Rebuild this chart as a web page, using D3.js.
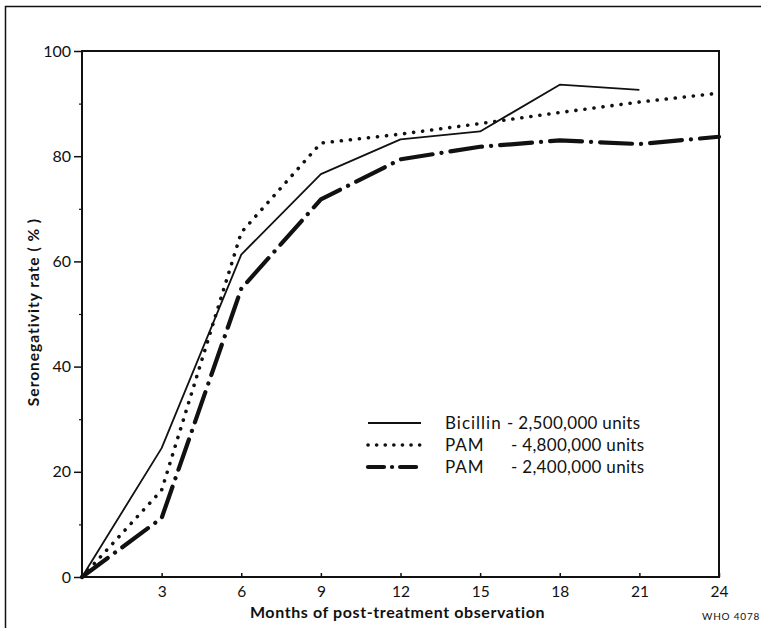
<!DOCTYPE html>
<html><head><meta charset="utf-8">
<script src="https://cdn.jsdelivr.net/npm/d3@7"></script>
<style>body{margin:0;background:#fff}svg{display:block}</style>
</head><body>
<script>
const months = [0, 3, 6, 9, 12, 15, 18, 21, 24];
const bicillin = [0, 24.5, 61.3, 76.6, 83.2, 84.7, 93.6, 92.6, null];
const pam48 = [0, 16.5, 65.5, 82.5, 84.2, 86.2, 88.3, 90.3, 92.0];
const pam24 = [0, 11.2, 54.8, 71.8, 79.4, 81.8, 83.0, 82.3, 83.7];
const seriesNames = ["Bicillin", "PAM", "PAM"];
const seriesDoses = ["- 2,500,000 units", "- 4,800,000 units", "- 2,400,000 units"];
const xTicks = [3, 6, 9, 12, 15, 18, 21, 24];
const yTicks = [0, 20, 40, 60, 80, 100];
const yMinor = [10, 30, 50, 70, 90];
const xTitle = "Months of post-treatment observation";
const yTitle = "Seronegativity rate ( % )";
const code = "WHO 4078";

const W = 761, H = 628;
const L = 82, R = 719, T = 51, B = 577;
const font = "Lato, 'DejaVu Sans', sans-serif";
const svg = d3.select("body").append("svg").attr("width", W).attr("height", H);

// outer frame (left and top only)
svg.append("path").attr("d", `M5.5,${H} V6.5 H${W}`).attr("fill", "none").attr("stroke", "#111").attr("stroke-width", 1.5);

const x = d3.scaleLinear().domain([0, 24]).range([L, R]);
const y = d3.scaleLinear().domain([0, 100]).range([B, T]);

// plot box
svg.append("rect").attr("x", L).attr("y", T).attr("width", R - L).attr("height", B - T)
  .attr("fill", "none").attr("stroke", "#111").attr("stroke-width", 2);

// y axis
const yAx = svg.append("g").attr("transform", `translate(${L},0)`)
  .call(d3.axisLeft(y).tickValues(yTicks).tickSize(8).tickPadding(3).tickFormat(d3.format("d")));
yAx.select(".domain").remove();
yAx.selectAll("line").attr("stroke", "#111").attr("stroke-width", 1.5);
yAx.selectAll("text").attr("font-family", font).attr("font-size", 16).attr("fill", "#111");
const yMin = svg.append("g").attr("transform", `translate(${L},0)`)
  .call(d3.axisLeft(y).tickValues(yMinor).tickSize(3).tickFormat(""));
yMin.select(".domain").remove();
yMin.selectAll("line").attr("stroke", "#111").attr("stroke-width", 1.2);

// x axis
const xAx = svg.append("g").attr("transform", `translate(0,${B})`)
  .call(d3.axisBottom(x).tickValues(xTicks).tickSize(-4).tickPadding(9).tickFormat(d3.format("d")));
xAx.select(".domain").remove();
xAx.selectAll("line").attr("stroke", "#111").attr("stroke-width", 1.5);
xAx.selectAll("text").attr("font-family", font).attr("font-size", 15.5).attr("fill", "#111");

// titles
svg.append("text").attr("x", (L + R) / 2 - 3).attr("y", 618).attr("text-anchor", "middle")
  .attr("font-family", font).attr("font-weight", "bold").attr("font-size", 16)
  .attr("letter-spacing", 0.6).attr("fill", "#111").text(xTitle);
svg.append("text").attr("transform", `translate(39,${(T + B) / 2 - 2}) rotate(-90)`)
  .attr("text-anchor", "middle").attr("font-family", font).attr("font-weight", "bold")
  .attr("font-size", 15.5).attr("letter-spacing", 1).attr("fill", "#111").text(yTitle);
svg.append("text").attr("x", 702).attr("y", 620).attr("font-family", font)
  .attr("font-size", 10).attr("letter-spacing", 0.8).attr("fill", "#111").text(code);

// series
const styles = [
  {w: 1.8, dash: null, cap: "butt"},
  {w: 3.6, dash: "0.1,9", cap: "round"},
  {w: 4.2, dash: "32,9,0.1,9", cap: "round"}
];
const data = [bicillin, pam48, pam24];
data.forEach((vals, i) => {
  const pts = months.map((m, j) => [m, vals[j]]).filter(p => p[1] != null);
  const line = d3.line().x(d => x(d[0])).y(d => y(d[1]));
  const p = svg.append("path").datum(pts).attr("d", line).attr("fill", "none")
    .attr("stroke", "#111").attr("stroke-width", styles[i].w)
    .attr("stroke-linecap", styles[i].cap).attr("stroke-linejoin", "round");
  if (styles[i].dash) p.attr("stroke-dasharray", styles[i].dash);
});

// legend
const legY = [423, 445, 467];
const lg = svg.append("g");
data.forEach((v, i) => {
  lg.append("line").attr("x1", 368).attr("x2", 421).attr("y1", legY[i]).attr("y2", legY[i])
    .attr("stroke", "#111").attr("stroke-width", styles[i].w)
    .attr("stroke-linecap", styles[i].cap)
    .attr("stroke-dasharray", i === 0 ? null : (i === 1 ? "0.1,8.5" : "16,8,0.1,8"));
  lg.append("text").attr("x", 445).attr("y", legY[i] + 6).attr("font-family", font)
    .attr("font-size", 17).attr("letter-spacing", 1).attr("fill", "#111").text(seriesNames[i]);
  lg.append("text").attr("x", i === 0 ? 507 : 511).attr("y", legY[i] + 6).attr("font-family", font)
    .attr("font-size", 17).attr("letter-spacing", 0.3).attr("fill", "#111").text(seriesDoses[i]);
});
</script>
</body></html>
